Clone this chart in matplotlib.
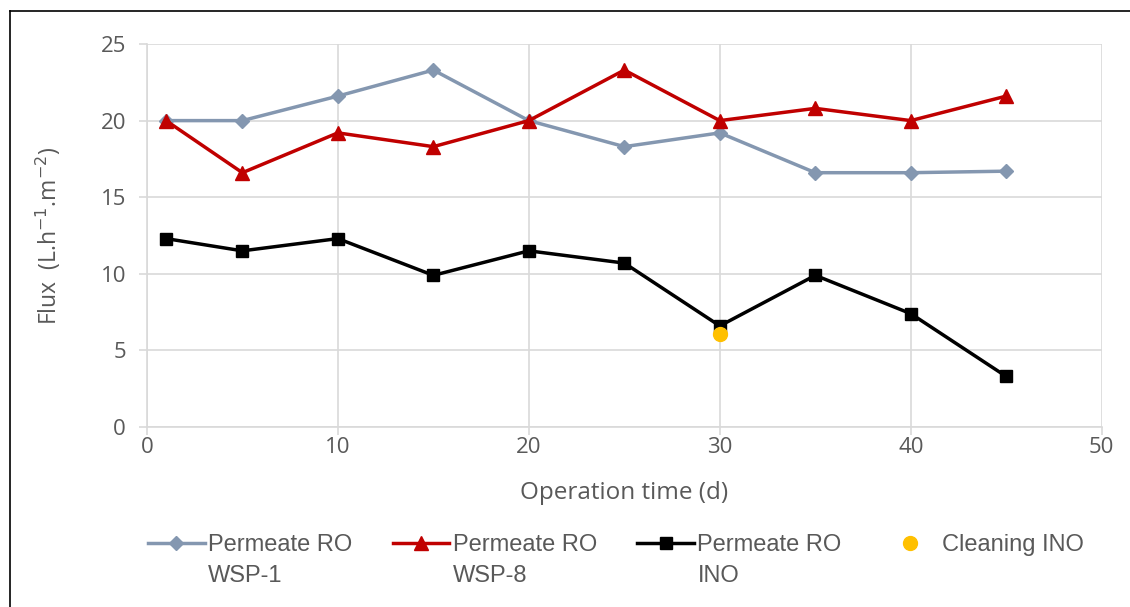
import matplotlib
matplotlib.use('Agg')
import matplotlib.pyplot as plt
from matplotlib.lines import Line2D

days = [1, 5, 10, 15, 20, 25, 30, 35, 40, 45]
wsp1 = [20.0, 20.0, 21.6, 23.3, 20.0, 18.3, 19.2, 16.6, 16.6, 16.7]
wsp8 = [20.0, 16.6, 19.2, 18.3, 20.0, 23.3, 20.0, 20.8, 20.0, 21.6]
ino = [12.3, 11.5, 12.3, 9.9, 11.5, 10.7, 6.6, 9.9, 7.4, 3.3]
cleaning_day = [30]
cleaning_flux = [6.1]

labels = ['Permeate RO', 'Permeate RO', 'Permeate RO', 'Cleaning INO']
second_lines = ['WSP-1', 'WSP-8', 'INO']
colors = ['#8497b0', '#c00000', '#000000', '#ffc000']

fig = plt.figure(figsize=(11.3, 6.07), dpi=100)
ax = fig.add_axes([0.130, 0.2965, 0.845, 0.631])

ax.plot(days, wsp1, color=colors[0], marker='D', markersize=7, linewidth=2.5, label=labels[0])
ax.plot(days, wsp8, color=colors[1], marker='^', markersize=10, linewidth=2.5, label=labels[1])
ax.plot(days, ino, color=colors[2], marker='s', markersize=9, linewidth=2.5, label=labels[2])
ax.plot(cleaning_day, cleaning_flux, color=colors[3], marker='o', markersize=10, linestyle='none', label=labels[3])

ax.set_xlim(0, 50)
ax.set_ylim(0, 25)
ax.set_xticks(range(0, 51, 10))
ax.set_yticks(range(0, 26, 5))
ax.grid(True, color='#d9d9d9', linewidth=1.2)
ax.set_axisbelow(True)
for s in ['top', 'right']:
    ax.spines[s].set_visible(False)
for s in ['left', 'bottom']:
    ax.spines[s].set_color('#d9d9d9')
    ax.spines[s].set_linewidth(1.2)
ax.tick_params(colors='#d9d9d9', labelcolor='#595959', labelsize=16, length=6, width=1.2)
ax.tick_params(axis='x', pad=1)
ax.tick_params(axis='y', pad=9)
for t in ax.get_xticklabels() + ax.get_yticklabels():
    t.set_family('Open Sans')

ax.set_xlabel('Operation time (d)', fontsize=17.5, color='#595959', family='Open Sans', labelpad=17)
ax.set_ylabel('Flux  (L.h$^{-1}$.m$^{-2}$)', fontsize=16.5, color='#595959', family='Open Sans', labelpad=27)

handles, lbls = ax.get_legend_handles_labels()
leg = fig.legend(handles, lbls, loc='center left', bbox_to_anchor=(0.131, 1 - 545 / 607), ncol=4,
                 frameon=False, prop={'family': 'Liberation Sans', 'size': 17},
                 handlelength=2.4, handletextpad=0.15, columnspacing=1.7,
                 borderpad=0, borderaxespad=0)
for t in leg.get_texts():
    t.set_color('#595959')

# second line of the legend labels
fig.canvas.draw()
for t, extra in zip(leg.get_texts()[:3], second_lines):
    bb = t.get_window_extent()
    fig.text(bb.x0 / fig.bbox.width, (bb.y0 - 31) / fig.bbox.height, extra,
             family='Liberation Sans', fontsize=17, color='#595959', va='bottom', ha='left')

# frame around the figure
fig.add_artist(Line2D([10 / 1130, 10 / 1130], [0, 1 - 11 / 607], color='black', linewidth=1.2))
fig.add_artist(Line2D([10 / 1130, 1], [1 - 11 / 607, 1 - 11 / 607], color='black', linewidth=1.2))

fig.savefig('out.png', dpi=100)
